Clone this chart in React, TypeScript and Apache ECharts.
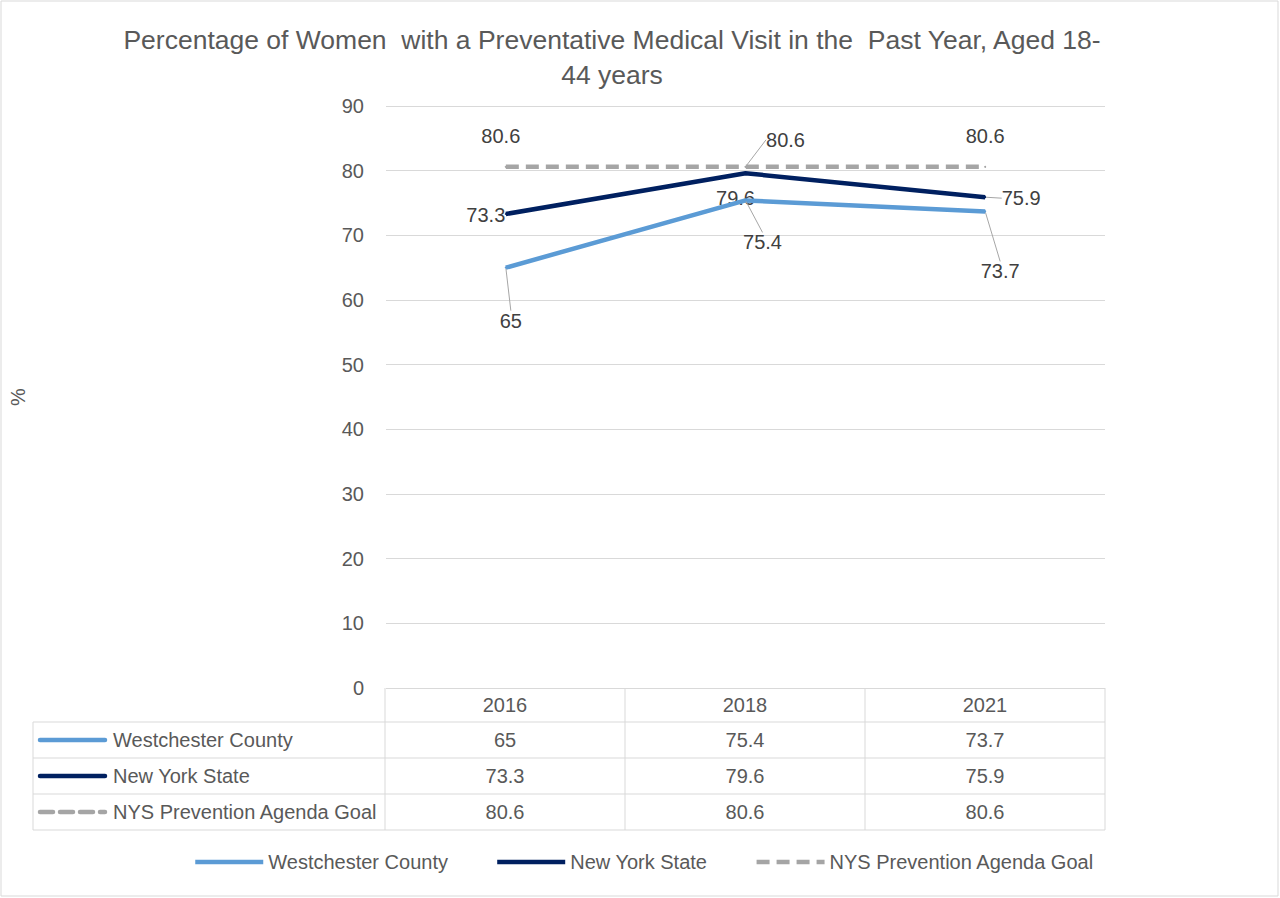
import React, { useEffect, useRef } from 'react';
import * as echarts from 'echarts';

const categories = ['2016', '2018', '2021'];
const seriesNames = ['Westchester County', 'New York State', 'NYS Prevention Agenda Goal'];
const westchester = [65, 75.4, 73.7];
const newYorkState = [73.3, 79.6, 75.9];
const goal = [80.6, 80.6, 80.6];
const seriesValues = [westchester, newYorkState, goal];
const titleLines = ['Percentage of Women  with a Preventative Medical Visit in the  Past Year, Aged 18-', '44 years'];
const yAxisName = '%';

// layout / style constants
const colors = ['#5b9bd5', '#002060', '#a5a5a5'];
const lineTypes: any[] = ['solid', 'solid', [13, 7]];
// label offsets relative to the point [dx, dy]
const labelOffsets = [
  [[5, 53], [17, 42], [15, 60]],
  [[-20, 1], [-10, 25], [36, 1]],
  [[-5, -31], [40, -27], [0, -31]],
];
const leaders = [
  [true, true, true],
  [false, false, true],
  [false, true, false],
];

const FONT = '"Liberation Sans", Arial, sans-serif';
const TEXT = '#595959';
const GRID_L = 385, GRID_R = 1105, GRID_T = 106, GRID_B = 688;
const TABLE_L = 33;
const ROW_LINES = [722, 758, 794, 830];

export default function App() {
  const ref = useRef<HTMLDivElement>(null);
  useEffect(() => {
    if (!ref.current) return;
    const chart = echarts.init(ref.current, null, { renderer: 'svg' });
    const colW = (GRID_R - GRID_L) / categories.length;
    const colCenters = categories.map((_, i) => GRID_L + colW * (i + 0.5));

    const graphic: any[] = [
      { type: 'rect', shape: { x: 1, y: 1, width: 1277, height: 895 }, style: { fill: 'none', stroke: '#d9d9d9', lineWidth: 1 }, silent: true },
    ];
    const vlines = [GRID_L, GRID_L + colW, GRID_L + 2 * colW, GRID_R];
    vlines.forEach((x) => graphic.push({ type: 'line', shape: { x1: x, y1: GRID_B, x2: x, y2: ROW_LINES[3] }, style: { stroke: '#d9d9d9', lineWidth: 1 } }));
    graphic.push({ type: 'line', shape: { x1: TABLE_L, y1: ROW_LINES[0], x2: TABLE_L, y2: ROW_LINES[3] }, style: { stroke: '#d9d9d9', lineWidth: 1 } });
    ROW_LINES.forEach((y) => graphic.push({ type: 'line', shape: { x1: TABLE_L, y1: y, x2: GRID_R, y2: y }, style: { stroke: '#d9d9d9', lineWidth: 1 } }));
    categories.forEach((c, i) => graphic.push({ type: 'text', x: colCenters[i], y: (GRID_B + ROW_LINES[0]) / 2, style: { text: c, fill: TEXT, font: `20px ${FONT}`, textAlign: 'center', textVerticalAlign: 'middle' } }));
    seriesNames.forEach((name, r) => {
      const cy = (ROW_LINES[r] + ROW_LINES[r + 1]) / 2;
      graphic.push({ type: 'line', shape: { x1: 40, y1: cy, x2: 105, y2: cy }, style: { stroke: colors[r], lineWidth: 4.5, lineDash: r === 2 ? [13, 7] : null, lineCap: 'round' } });
      graphic.push({ type: 'text', x: 113, y: cy, style: { text: name, fill: TEXT, font: `20px ${FONT}`, textAlign: 'left', textVerticalAlign: 'middle' } });
      seriesValues[r].forEach((v, i) => graphic.push({ type: 'text', x: colCenters[i], y: cy, style: { text: String(v), fill: TEXT, font: `20px ${FONT}`, textAlign: 'center', textVerticalAlign: 'middle' } }));
    });
    titleLines.forEach((t, i) => graphic.push({ type: 'text', x: 612, y: 40 + i * 35, style: { text: t, fill: TEXT, font: `26.5px ${FONT}`, textAlign: 'center', textVerticalAlign: 'middle' } }));

    const series = seriesNames.map((name, s) => ({
      name,
      type: 'line',
      data: seriesValues[s].map((v, i) => ({ value: v, labelLine: { show: leaders[s][i] } })),
      symbol: 'circle',
      symbolSize: 2,
      itemStyle: { color: colors[s] },
      lineStyle: { color: colors[s], width: 4.5, type: lineTypes[s] },
      label: { show: true, position: 'inside', color: '#404040', fontSize: 20, fontFamily: FONT },
      labelLine: { lineStyle: { color: '#a6a6a6', width: 1 } },
      labelLayout: (p: any) => ({ dx: labelOffsets[s][p.dataIndex][0], dy: labelOffsets[s][p.dataIndex][1], hideOverlap: false }),
      emphasis: { disabled: true },
      z: 3 - s,
    }));

    chart.setOption({
      animation: false,
      textStyle: { fontFamily: FONT },
      grid: { left: GRID_L, right: 1280 - GRID_R, top: GRID_T, bottom: 898 - GRID_B, containLabel: false },
      xAxis: { type: 'category', data: categories, boundaryGap: true, axisLine: { show: false }, axisTick: { show: false }, axisLabel: { show: false }, splitLine: { show: false } },
      yAxis: {
        type: 'value', min: 0, max: 90, interval: 10,
        name: yAxisName, nameLocation: 'middle', nameGap: 358, nameRotate: 90,
        nameTextStyle: { color: TEXT, fontSize: 20, fontFamily: FONT },
        axisLine: { show: false }, axisTick: { show: false },
        axisLabel: { color: TEXT, fontSize: 20, margin: 22, fontFamily: FONT },
        splitLine: { lineStyle: { color: '#d9d9d9', width: 1 } },
      },
      legend: {
        data: seriesNames, left: 188, top: 847, itemWidth: 68, itemHeight: 14, itemGap: 47,
        textStyle: { color: TEXT, fontSize: 20, fontFamily: FONT },
        itemStyle: { opacity: 0 },
        lineStyle: { width: 4.5 },
        selectedMode: false,
      },
      graphic,
      series,
    });
    return () => chart.dispose();
  }, []);
  return <div ref={ref} style={{ position: 'fixed', left: 0, top: 0, width: 1280, height: 898, background: '#fff' }} />;
}
